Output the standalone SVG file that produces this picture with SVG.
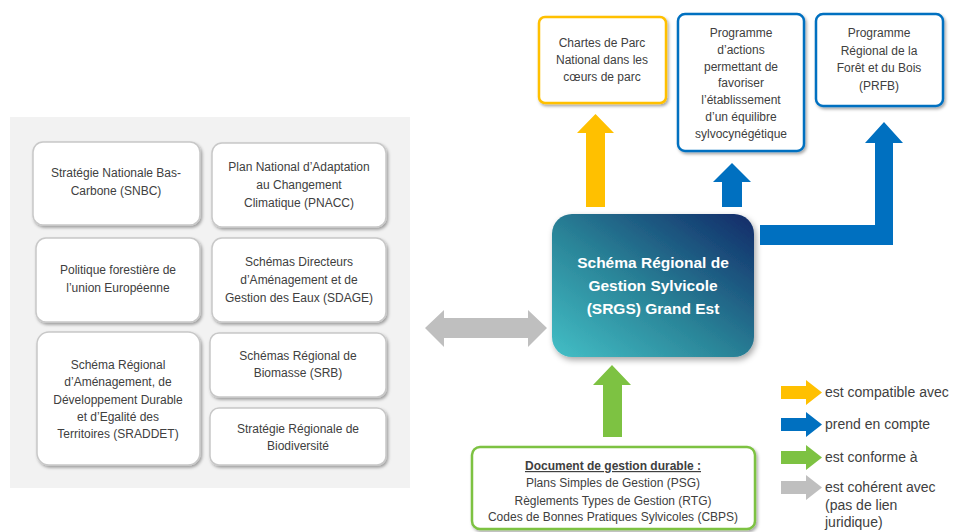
<svg xmlns="http://www.w3.org/2000/svg" width="958" height="532" viewBox="0 0 958 532">
<defs>
  <filter id="sh" x="-10%" y="-10%" width="125%" height="130%">
    <feDropShadow dx="1.5" dy="2" stdDeviation="1.5" flood-color="#000" flood-opacity="0.35"/>
  </filter>
  <filter id="sh2" x="-10%" y="-10%" width="125%" height="130%">
    <feDropShadow dx="2" dy="3" stdDeviation="3" flood-color="#000" flood-opacity="0.35"/>
  </filter>
  <linearGradient id="grad" x1="0" y1="1" x2="1" y2="0">
    <stop offset="0" stop-color="#43bfc6"/>
    <stop offset="0.45" stop-color="#2a8498"/>
    <stop offset="1" stop-color="#102a68"/>
  </linearGradient>
  <style>
    .lb { fill: #ffffff; stroke: #c8c8c8; stroke-width: 1.5; filter: url(#sh); }
    .t { font-family: "Liberation Sans", Arial, sans-serif; font-size: 12px; fill: #404040; text-anchor: middle; }
    .tb { font-family: "Liberation Sans", Arial, sans-serif; font-size: 15.5px; font-weight: bold; fill: #ffffff; text-anchor: middle; }
    .lg { font-family: "Liberation Sans", Arial, sans-serif; font-size: 14px; fill: #404040; }
    .yb { fill: #ffffff; stroke: #ffc000; stroke-width: 2.5; filter: url(#sh); }
    .bb { fill: #ffffff; stroke: #0070c0; stroke-width: 2.5; filter: url(#sh); }
    .gb { fill: #ffffff; stroke: #7dc242; stroke-width: 2.5; filter: url(#sh); }
    .ya { fill: #ffc000; }
    .ba { fill: #0070c0; }
    .ga { fill: #7dc242; }
    .gr { fill: #bfbfbf; }
  </style>
</defs>
<rect x="10" y="117" width="400" height="371" fill="#f2f2f2"/>

<g id="snbc">
  <rect class="lb" x="33" y="142" width="167" height="83" rx="10"/>
  <text class="t" x="116" y="177">Stratégie Nationale Bas-</text>
  <text class="t" x="116" y="195">Carbone (SNBC)</text>
</g>
<g id="pnacc">
  <rect class="lb" x="212" y="143" width="174" height="84" rx="10"/>
  <text class="t" x="299" y="171">Plan National d’Adaptation</text>
  <text class="t" x="299" y="189">au Changement</text>
  <text class="t" x="299" y="207">Climatique (PNACC)</text>
</g>
<g id="politique">
  <rect class="lb" x="36" y="238" width="164" height="84" rx="10"/>
  <text class="t" x="118" y="274">Politique forestière de</text>
  <text class="t" x="118" y="292">l’union Européenne</text>
</g>
<g id="sdage">
  <rect class="lb" x="212" y="238" width="174" height="84" rx="10"/>
  <text class="t" x="299" y="266">Schémas Directeurs</text>
  <text class="t" x="299" y="284">d’Aménagement et de</text>
  <text class="t" x="299" y="302">Gestion des Eaux (SDAGE)</text>
</g>
<g id="sraddet">
  <rect class="lb" x="37" y="332" width="163" height="133" rx="12"/>
  <text class="t" x="118" y="369">Schéma Régional</text>
  <text class="t" x="118" y="386">d’Aménagement, de</text>
  <text class="t" x="118" y="404">Développement Durable</text>
  <text class="t" x="118" y="421">et d’Egalité des</text>
  <text class="t" x="118" y="438">Territoires (SRADDET)</text>
</g>
<g id="srb">
  <rect class="lb" x="210" y="333" width="176" height="64" rx="9"/>
  <text class="t" x="298" y="360">Schémas Régional de</text>
  <text class="t" x="298" y="377">Biomasse (SRB)</text>
</g>
<g id="srbio">
  <rect class="lb" x="210" y="408" width="176" height="57" rx="9"/>
  <text class="t" x="298" y="433">Stratégie Régionale de</text>
  <text class="t" x="298" y="450">Biodiversité</text>
</g>

<g id="chartes">
  <rect class="yb" x="539" y="17" width="127" height="86" rx="6"/>
  <text class="t" x="602" y="47">Chartes de Parc</text>
  <text class="t" x="602" y="64">National dans les</text>
  <text class="t" x="602" y="81">cœurs de parc</text>
</g>
<g id="programme">
  <rect class="bb" x="678" y="14" width="126" height="137" rx="7"/>
  <text class="t" x="741" y="37">Programme</text>
  <text class="t" x="741" y="54">d’actions</text>
  <text class="t" x="741" y="71">permettant de</text>
  <text class="t" x="741" y="87">favoriser</text>
  <text class="t" x="741" y="104">l’établissement</text>
  <text class="t" x="741" y="121">d’un équilibre</text>
  <text class="t" x="741" y="138">sylvocynégétique</text>
</g>
<g id="prfb">
  <rect class="bb" x="816" y="14" width="127" height="92" rx="7"/>
  <text class="t" x="879" y="37">Programme</text>
  <text class="t" x="879" y="55">Régional de la</text>
  <text class="t" x="879" y="72">Forêt et du Bois</text>
  <text class="t" x="879" y="90">(PRFB)</text>
</g>

<g id="srgs">
  <rect x="552" y="214" width="202" height="143" rx="20" fill="url(#grad)" filter="url(#sh2)"/>
  <text class="tb" x="653" y="268">Schéma Régional de</text>
  <text class="tb" x="653" y="291">Gestion Sylvicole</text>
  <text class="tb" x="653" y="314">(SRGS) Grand Est</text>
</g>

<g id="document">
  <rect class="gb" x="472" y="447" width="283" height="82" rx="8"/>
  <text class="t" x="613" y="470" font-weight="bold" text-decoration="underline">Document de gestion durable :</text>
  <text class="t" x="613" y="487">Plans Simples de Gestion (PSG)</text>
  <text class="t" x="613" y="505">Règlements Types de Gestion (RTG)</text>
  <text class="t" x="613" y="521">Codes de Bonnes Pratiques Sylvicoles (CBPS)</text>
</g>

<g id="connectors">
  <polygon class="gr" points="425,328 444,310 444,318 528,318 528,310 547,328 528,347 528,338 444,338 444,347"/>
  <polygon class="ya" points="586,207 586,133 577,133 595.5,114 614,133 605,133 605,207"/>
  <polygon class="ba" points="722,207 722,182 713,182 732,163 751,182 742,182 742,207"/>
  <polygon class="ba" points="760,225 875,225 875,143 865,143 884,122 903,143 893,143 893,245 760,245"/>
  <polygon class="ga" points="603,437 603,385 593,385 612,365 631,385 622,385 622,437"/>
</g>

<g id="legend">
  <polygon class="ya" points="781,386 806,386 806,380 822,392.5 806,405 806,399 781,399"/>
  <text class="lg" x="825" y="397">est compatible avec</text>
  <polygon class="ba" points="781,418 806,418 806,412 822,424.5 806,437 806,431 781,431"/>
  <text class="lg" x="825" y="429">prend en compte</text>
  <polygon class="ga" points="781,451 806,451 806,445 822,457.5 806,470 806,464 781,464"/>
  <text class="lg" x="825" y="462">est conforme à</text>
  <polygon class="gr" points="781,481 806,481 806,475 822,487.5 806,500 806,494 781,494"/>
  <text class="lg" x="825" y="492">est cohérent avec</text>
  <text class="lg" x="825" y="510">(pas de lien</text>
  <text class="lg" x="825" y="527">juridique)</text>
</g>
</svg>
